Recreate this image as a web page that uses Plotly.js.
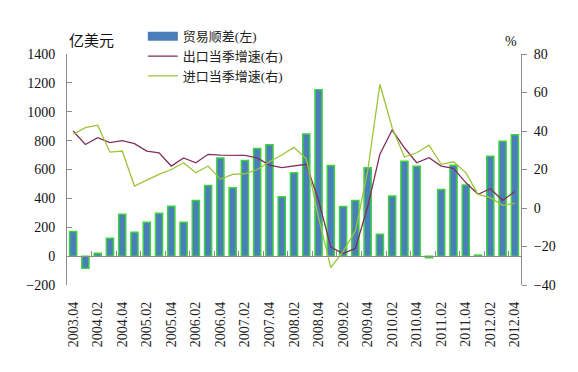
<!DOCTYPE html>
<html><head><meta charset="utf-8">
<script src="https://cdn.plot.ly/plotly-3.0.1.min.js"></script>
<style>html,body{margin:0;padding:0;background:#fff}</style>
</head><body><div id="chart" style="width:578px;height:372px"></div>
<script>
const quarters = ["2003.04","2004.01","2004.02","2004.03","2004.04","2005.01","2005.02","2005.03","2005.04",
  "2006.01","2006.02","2006.03","2006.04","2007.01","2007.02","2007.03","2007.04",
  "2008.01","2008.02","2008.03","2008.04","2009.01","2009.02","2009.03","2009.04",
  "2010.01","2010.02","2010.03","2010.04","2011.01","2011.02","2011.03","2011.04",
  "2012.01","2012.02","2012.03","2012.04"];
const tradeSurplus = [170,-84,20,124,290,166,234,297,345,234,385,490,680,474,662,745,772,412,577,846,1152,628,343,386,612,152,416,657,623,-12,462,630,492,7,692,795,841];
const exportGrowth = [40,33,36.5,34,35,33.4,29.6,28.7,21.8,26,23.5,27.9,27.5,27.3,27.3,26,22.3,21,21.8,22.7,4,-20.3,-23.7,-21,0.5,28,40.5,31.3,23.5,26.1,21.8,20.6,13.2,7.1,10,4,8.5];
const importGrowth = [38.3,41.7,43,29,29.6,11.4,14.5,17.5,20,23.5,18.3,21.8,14.9,17.5,17.8,20,24,27.5,31.5,25.5,-5,-31,-22.5,-12,19,64.3,41.7,26.5,28.7,32.6,22.7,24,18.4,7.1,5.4,1.4,2.4];
const seriesNames = ["贸易顺差(左)","出口当季增速(右)","进口当季增速(右)"];
const leftTitle = "亿美元";
const rightTitle = "%";

const FONT = "Liberation Serif, 'Noto Sans CJK SC', serif";
const BLUE = "#4a7ebb", GREEN = "#3fd13f", PURPLE = "#7f2e5e", LIME = "#9cc43a";

const traces = [
  {type:"scatter", mode:"lines", x:[null], y:[null], name:seriesNames[0],
   line:{color:BLUE, width:9}, hoverinfo:"skip"},
  {type:"bar", x:quarters, y:tradeSurplus, name:seriesNames[0], showlegend:false,
   marker:{color:BLUE, line:{color:GREEN, width:1.5}}},
  {type:"scatter", mode:"lines", x:quarters, y:exportGrowth, name:seriesNames[1], yaxis:"y2",
   line:{color:PURPLE, width:1.3}},
  {type:"scatter", mode:"lines", x:quarters, y:importGrowth, name:seriesNames[2], yaxis:"y2",
   line:{color:LIME, width:1.3}}
];

const layout = {
  width:578, height:372,
  margin:{l:67, r:57, t:54, b:87},
  paper_bgcolor:"#fff", plot_bgcolor:"rgba(0,0,0,0)",
  font:{family:FONT, size:14, color:"#111"},
  bargap:0.42,
  showlegend:true,
  legend:{x:0.167, y:1.142, xanchor:"left", yanchor:"top", bgcolor:"rgba(0,0,0,0)",
          font:{family:FONT, size:13, color:"#222"}, tracegroupgap:0, itemwidth:30},
  xaxis:{type:"category", categoryorder:"array", categoryarray:quarters,
         range:[-0.5, quarters.length-0.5],
         anchor:"free", position:0.125,
         showline:true, linecolor:"#8c8c8c", linewidth:1,
         ticks:"inside", ticklen:5, tickcolor:"#8c8c8c", tickson:"boundaries",
         tickmode:"linear", tick0:0, dtick:2,
         tickangle:-90, ticklabelstandoff:39,
         tickfont:{family:FONT, size:14, color:"#222"},
         showgrid:false, zeroline:false},
  yaxis:{range:[-200,1400], dtick:200, tick0:0,
         showline:true, linecolor:"#8c8c8c", linewidth:1,
         ticks:"inside", ticklen:5, tickcolor:"#8c8c8c",
         ticklabelstandoff:8,
         tickfont:{family:FONT, size:14, color:"#111"},
         showgrid:false, zeroline:false},
  yaxis2:{overlaying:"y", side:"right", range:[-40,80], dtick:20, tick0:0,
          showline:true, linecolor:"#8c8c8c", linewidth:1,
          ticks:"outside", ticklen:5, tickcolor:"#8c8c8c",
          ticklabelstandoff:4,
          tickfont:{family:FONT, size:14, color:"#111"},
          showgrid:false, zeroline:false},
  annotations:[
    {text:leftTitle, xref:"paper", yref:"paper", x:0.053, y:1.056, xanchor:"center", yanchor:"middle",
     showarrow:false, font:{family:FONT, size:15, color:"#111"}},
    {text:rightTitle, xref:"paper", yref:"paper", x:0.978, y:1.056, xanchor:"center", yanchor:"middle",
     showarrow:false, font:{family:FONT, size:14, color:"#111"}}
  ]
};

Plotly.newPlot("chart", traces, layout, {displayModeBar:false, staticPlot:true});
</script></body></html>
